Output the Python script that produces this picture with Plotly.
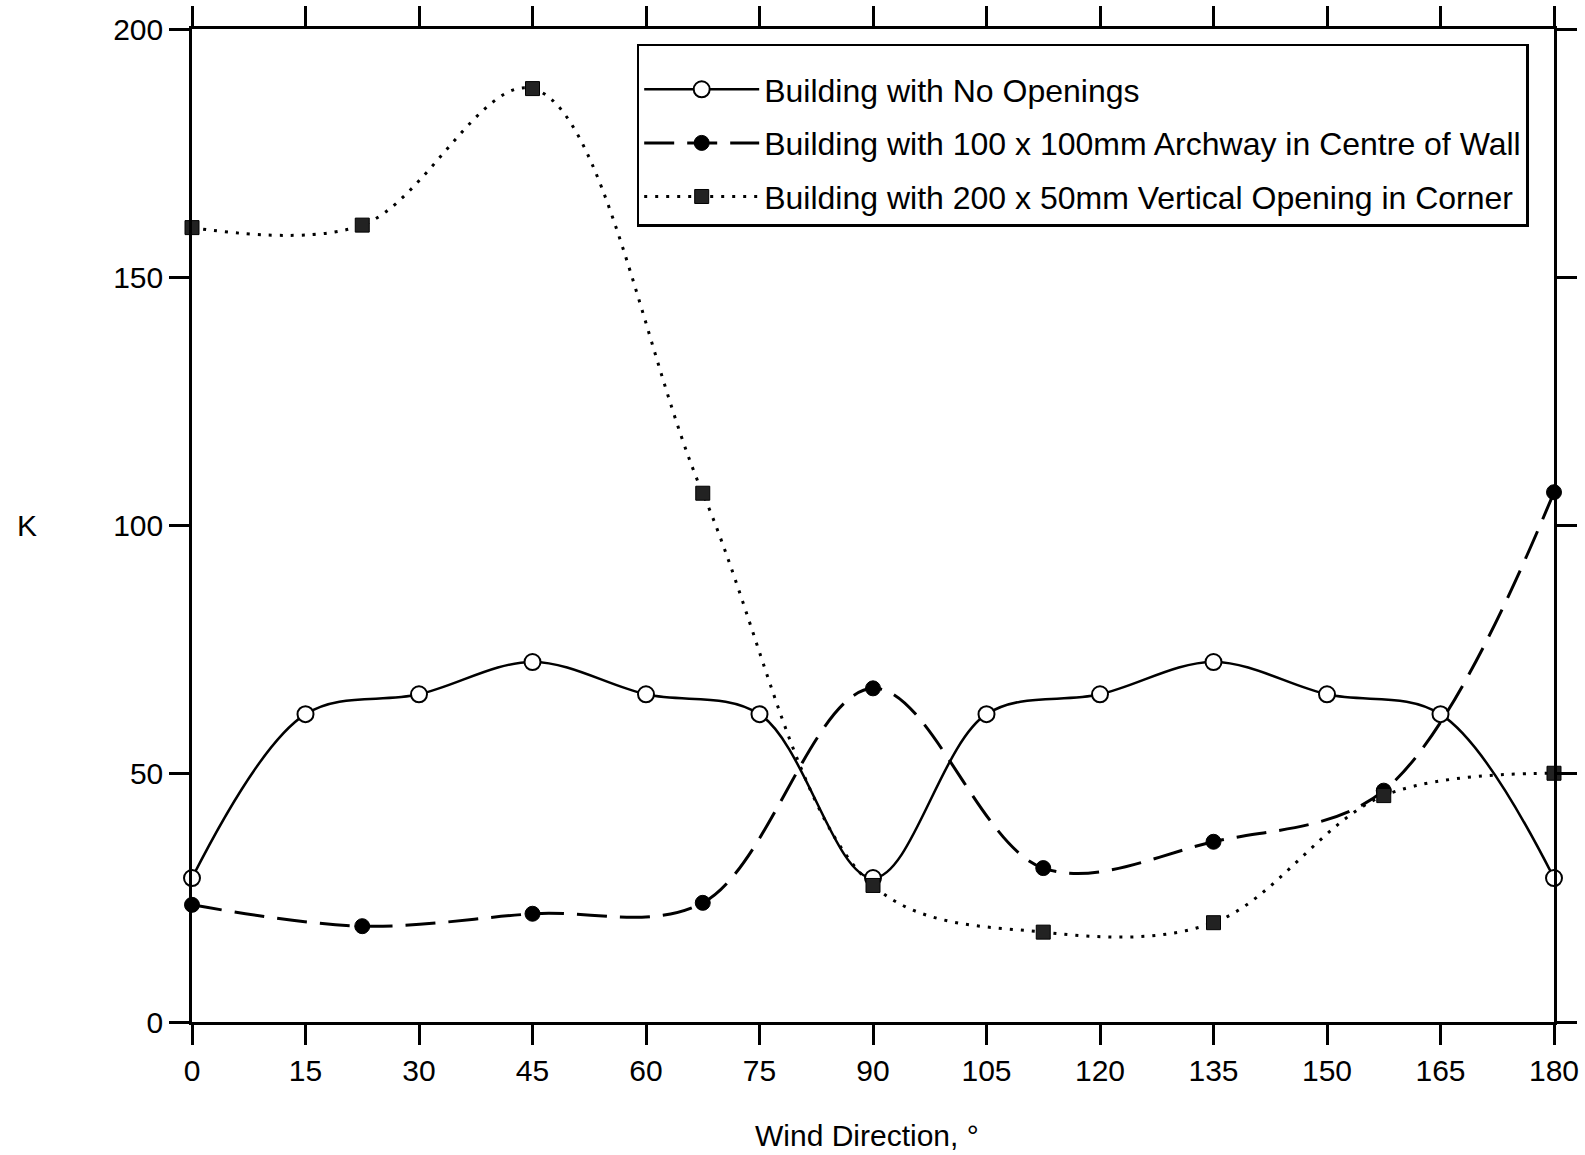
import plotly.graph_objects as go

# ---- data ----
angles_a = [0, 15, 30, 45, 60, 75, 90, 105, 120, 135, 150, 165, 180]
k_no_openings = [29, 62, 66, 72.5, 66, 62, 29, 62, 66, 72.5, 66, 62, 29]

angles_b = [0, 22.5, 45, 67.5, 90, 112.5, 135, 157.5, 180]
k_archway = [23.6, 19.3, 21.8, 24, 67.2, 31, 36.3, 46.6, 106.7]
k_corner = [160, 160.5, 188, 106.5, 27.5, 18.1, 20, 45.6, 50.1]

x_ticks = [0, 15, 30, 45, 60, 75, 90, 105, 120, 135, 150, 165, 180]
y_ticks = [0, 50, 100, 150, 200]

names = [
    "Building with No Openings",
    "Building with 100 x 100mm Archway in Centre of Wall",
    "Building with 200 x 50mm Vertical Opening in Corner",
]

FONT = "Liberation Sans, Arial, sans-serif"

fig = go.Figure()
fig.add_trace(go.Scatter(
    x=angles_a, y=k_no_openings, name=names[0], mode="lines+markers",
    line=dict(color="black", width=2.5, shape="spline", smoothing=1.0),
    marker=dict(symbol="circle", size=16, color="white", line=dict(color="black", width=2)),
    legendgroup="a", cliponaxis=False,
))
fig.add_trace(go.Scatter(
    x=angles_b, y=k_archway, name=names[1], mode="lines+markers",
    line=dict(color="black", width=3, dash="30px,13px", shape="spline", smoothing=1.0),
    marker=dict(symbol="circle", size=15, color="black", line=dict(color="black", width=1)),
    legendgroup="b", cliponaxis=False,
))
fig.add_trace(go.Scatter(
    x=angles_b, y=k_corner, name=names[2], mode="lines+markers",
    line=dict(color="black", width=3, dash="3px,8px", shape="spline", smoothing=1.0),
    marker=dict(symbol="square", size=14, color="#222222", line=dict(color="black", width=1)),
    legendgroup="c", cliponaxis=False,
))

axis_common = dict(
    showgrid=False, zeroline=False, showline=True, linecolor="black", linewidth=2.5,
    mirror="ticks", ticks="outside", ticklen=20, tickwidth=2.5, tickcolor="black",
    tickfont=dict(family=FONT, size=30, color="black"), automargin=False,
)
fig.update_xaxes(range=[0, 180], tickvals=x_ticks, **axis_common)
fig.update_yaxes(range=[0, 200], tickvals=y_ticks, **axis_common)

fig.add_annotation(text="K", xref="paper", yref="paper", x=-0.121, y=0.5,
                   xanchor="center", yanchor="middle",
                   showarrow=False, font=dict(family=FONT, size=30, color="black"))
fig.add_annotation(text="Wind Direction, °", xref="paper", yref="paper", x=0.4956, y=-0.114,
                   xanchor="center", yanchor="middle",
                   showarrow=False, font=dict(family=FONT, size=30, color="black"))

fig.update_layout(
    width=1585, height=1155,
    margin=dict(l=192, r=31, t=29, b=133, autoexpand=False),
    paper_bgcolor="white", plot_bgcolor="white",
    font=dict(family=FONT, color="black"),
    legend=dict(
        x=0.3265, y=0.985, xanchor="left", yanchor="top",
        bgcolor="white", bordercolor="black", borderwidth=2.5,
        font=dict(family=FONT, size=32, color="black"),
        title=dict(text="\u00a0", font=dict(size=12)),
        traceorder="grouped", tracegroupgap=9, itemwidth=115,
    ),
)

fig.write_html("out.html")
